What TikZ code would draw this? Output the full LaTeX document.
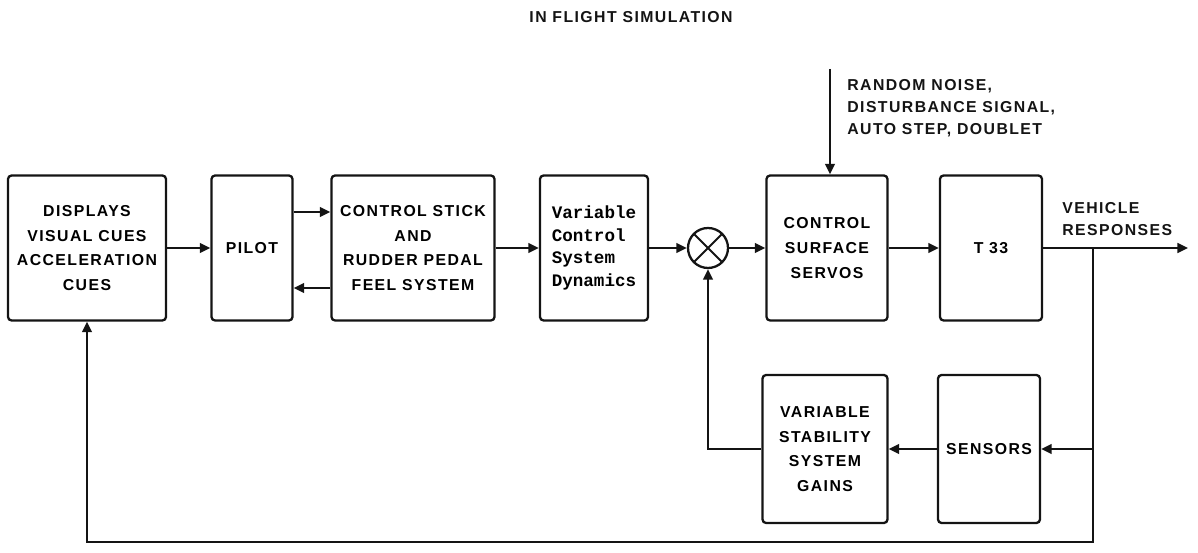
\documentclass[tikz,border=0pt]{standalone}
\usepackage{fontspec}
\setsansfont{Liberation Sans}[LetterSpace=9]
\setmonofont{Liberation Mono}
\usetikzlibrary{arrows.meta, positioning, calc}
\definecolor{inkBlack}{HTML}{141414}
\tikzset{
    block/.style={rectangle, rounded corners=2pt, draw=inkBlack, line width=1.3pt, align=center, minimum height=2.9cm, font=\sffamily\bfseries\fontsize{9}{14}\selectfont, inner sep=2pt},
    codeblock/.style={block, align=left, font=\ttfamily\bfseries\fontsize{10}{13}\selectfont},
    sumjunc/.style={circle, draw=inkBlack, line width=1.3pt, minimum size=0.8cm, inner sep=0pt, path picture={\draw[inkBlack, line width=1.1pt] (path picture bounding box.north west) -- (path picture bounding box.south east) (path picture bounding box.north east) -- (path picture bounding box.south west);}},
    sigtext/.style={font=\sffamily\bfseries\fontsize{9}{12.5}\selectfont, align=left, inner sep=0pt, text=inkBlack},
    arrow/.style={-{Triangle[length=6pt, width=5.5pt]}, line width=1.3pt, draw=inkBlack},
}

\begin{document}
\begin{tikzpicture}[x=0.02cm, y=-0.02cm]
    \useasboundingbox (0,0) rectangle (1198,553);
    \node[sigtext] (title) at (631,17) {IN FLIGHT SIMULATION};

    \node[block, minimum width=3.16cm] (disp) at (87,248) {DISPLAYS\\VISUAL CUES\\ACCELERATION\\CUES};
    \node[block, minimum width=1.62cm] (pilot) at (252,248) {PILOT};
    \node[block, minimum width=3.26cm] (stick) at (413,248) {CONTROL STICK\\AND\\RUDDER PEDAL\\FEEL SYSTEM};
    \node[codeblock, minimum width=2.16cm] (vcsd) at (594,248) {Variable\\Control\\System\\Dynamics};
    \node[sumjunc] (sum) at (708,248) {};
    \node[block, minimum width=2.42cm] (servo) at (827,248) {CONTROL\\SURFACE\\SERVOS};
    \node[block, minimum width=2.04cm] (t33) at (991,248) {T 33};
    \node[block, minimum width=2.5cm, minimum height=2.96cm] (gains) at (825,449) {VARIABLE\\STABILITY\\SYSTEM\\GAINS};
    \node[block, minimum width=2.04cm, minimum height=2.96cm] (sensors) at (989,449) {SENSORS};

    \coordinate (noise) at (830,69);
    \coordinate (out) at (1188,248);
    \coordinate (tap) at (1093,248);
    \coordinate (floor) at (1093,542);

    \node[sigtext, anchor=north west] (noisetxt) at (847,79) {RANDOM NOISE,\\DISTURBANCE SIGNAL,\\AUTO STEP, DOUBLET};
    \node[sigtext, anchor=south west] (resp) at (1062,236) {VEHICLE\\RESPONSES};

    \draw[arrow] (disp) -- (pilot);
    \draw[arrow] ([yshift=0.72cm]pilot.east) -- ([yshift=0.72cm]stick.west);
    \draw[arrow] ([yshift=-0.8cm]stick.west) -- ([yshift=-0.8cm]pilot.east);
    \draw[arrow] (stick) -- (vcsd);
    \draw[arrow] (vcsd) -- (sum);
    \draw[arrow] (sum) -- (servo);
    \draw[arrow] (servo) -- (t33);
    \draw[arrow] (t33) -- (out);
    \draw[arrow] (noise) -- (servo.north -| noise);
    \draw[arrow] (tap) |- (sensors);
    \draw[arrow] (sensors) -- (gains);
    \draw[arrow] (gains) -| (sum);
    \draw[arrow] (tap) -- (floor) -| (disp);
\end{tikzpicture}
\end{document}
